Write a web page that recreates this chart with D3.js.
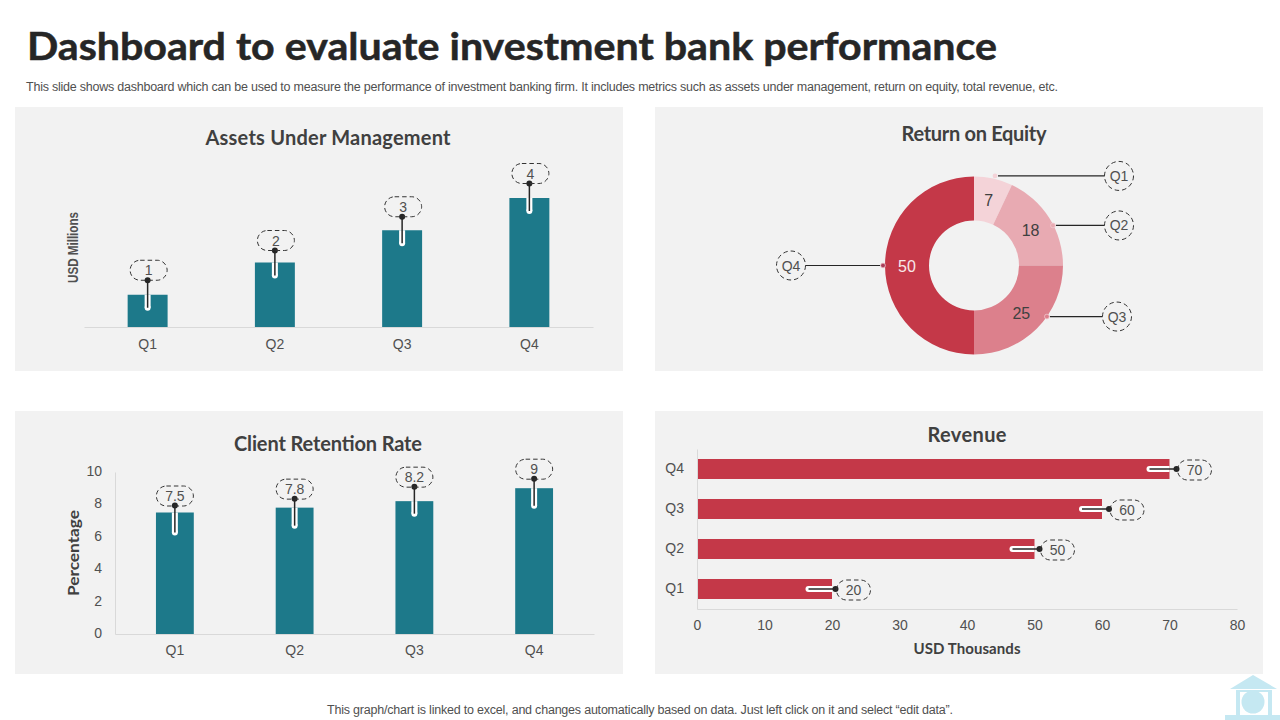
<!DOCTYPE html>
<html>
<head>
<meta charset="utf-8">
<script src="https://cdn.jsdelivr.net/npm/d3@7"></script>
<style>
  html, body { margin: 0; padding: 0; background: #fff; }
  svg { display: block; }
  text { font-family: "Liberation Sans", Arial, sans-serif; fill: #505050; }
  .head { font-family: Lato, "Open Sans", sans-serif; font-weight: 700; fill: #404040; }
  .axis .domain { stroke: #d9d9d9; stroke-width: 1; }
  .axis text { font-family: "Liberation Sans", Arial, sans-serif; font-size: 14px; fill: #505050; }
</style>
</head>
<body>
<svg id="chart" width="1280" height="720"></svg>
<script>
// chart values
const quarters = ['Q1', 'Q2', 'Q3', 'Q4'];
const aumValues = [1, 2, 3, 4];
const roeValues = [7, 18, 25, 50];
const retentionValues = [7.5, 7.8, 8.2, 9];
const revenueValues = [20, 50, 60, 70];
const retentionTicks = [0, 2, 4, 6, 8, 10];
const revenueTicks = [0, 10, 20, 30, 40, 50, 60, 70, 80];

const TEAL = '#1d798a';
const RED = '#c43848';
const ROE_COLORS = ['#f4d3d8', '#e8aab2', '#dc808c', '#c43848'];
const PANEL = '#f2f2f2';
const INK = '#262626';

const svg = d3.select('#chart');

// fixed-width text, so the substitute fonts still span what the original spans
function label(str, x, y, size, width, opts = {}) {
    const t = svg.append('text')
        .attr('x', x).attr('y', y)
        .attr('font-size', size)
        .attr('text-anchor', opts.anchor || 'middle')
        .text(str);
    if (width) t.attr('textLength', width).attr('lengthAdjust', opts.adjust || 'spacing');
    if (opts.head) t.attr('class', 'head');
    if (opts.bold) t.attr('font-weight', 700);
    if (opts.fill) t.style('fill', opts.fill);
    if (opts.rotate) t.attr('transform', `rotate(-90 ${x} ${y})`);
    return t;
}

function panel(x, y, w, h) {
    svg.append('rect').attr('x', x).attr('y', y).attr('width', w).attr('height', h).attr('fill', PANEL);
}

function dashedTag(cx, cy, w, h, rx, text) {
    svg.append('rect')
        .attr('x', cx - w / 2).attr('y', cy - h / 2)
        .attr('width', w).attr('height', h).attr('rx', rx)
        .attr('fill', 'none').attr('stroke', '#333').attr('stroke-width', 1)
        .attr('stroke-dasharray', '4.5 3');
    label(text, cx, cy + 5, 14, null);
}

// white slot cut in the bar from (sx,sy) to its round end (ex,ey), then stem and dot
function callout(sx, sy, ex, ey, dotX, dotY) {
    svg.append('line').attr('x1', sx).attr('y1', sy).attr('x2', ex).attr('y2', ey)
        .attr('stroke', '#fff').attr('stroke-width', 6);
    svg.append('circle').attr('cx', ex).attr('cy', ey).attr('r', 3).attr('fill', '#fff');
    svg.append('line').attr('x1', ex).attr('y1', ey).attr('x2', dotX).attr('y2', dotY)
        .attr('stroke', INK).attr('stroke-width', 1.5);
    svg.append('circle').attr('cx', dotX).attr('cy', dotY).attr('r', 3).attr('fill', INK);
}

// page heading
label('Dashboard to evaluate investment bank performance', 27, 60, 38, 970, { anchor: 'start', head: true, fill: INK, adjust: 'spacingAndGlyphs' })
    .attr('stroke', INK).attr('stroke-width', 0.5);
label('This slide shows dashboard which can be used to measure the performance of investment banking firm. It includes metrics such as assets under management, return on equity, total revenue, etc.',
    26, 91, 12.5, 1032, { anchor: 'start' });
label('This graph/chart is linked to excel,  and changes automatically based on data. Just left click on it and select \u201Cedit data\u201D.',
    640, 714, 12.5, 626);

panel(15, 107, 608, 264);
panel(655, 107, 608, 264);
panel(15, 411, 608, 263);
panel(655, 411, 608, 263);

// Assets Under Management
label('Assets Under Management', 328, 145, 20, 245, { head: true });
label('USD Millions', 78, 283, 14, 71, { bold: true, rotate: true, adjust: 'spacingAndGlyphs' }).attr('text-anchor', 'start');

const aumX = d3.scaleBand().domain(quarters).range([84, 593]).paddingInner(0.686).paddingOuter(0.343);
const aumY = d3.scaleLinear().domain([0, 4]).range([327, 198]);

svg.append('g').selectAll('rect').data(aumValues).join('rect')
    .attr('x', (d, i) => aumX(quarters[i]))
    .attr('y', d => aumY(d))
    .attr('width', aumX.bandwidth())
    .attr('height', d => aumY(0) - aumY(d))
    .attr('fill', TEAL);

svg.append('g').attr('class', 'axis').attr('transform', 'translate(0,327)')
    .call(d3.axisBottom(aumX).tickSize(0).tickPadding(12));

const aumDotGap = [14.5, 12, 13.5, 14.5];
aumValues.forEach((d, i) => {
    const cx = aumX(quarters[i]) + aumX.bandwidth() / 2;
    const top = aumY(d);
    callout(cx, top, cx, top + 13, cx, top - aumDotGap[i]);
    dashedTag(cx + 1, top - aumDotGap[i] - 10, 37, 20, 10, d);
});

// Return on Equity
label('Return on Equity', 974, 141, 20, 145, { head: true });

const pieCx = 974, pieCy = 265.5;
const pieOuter = 89, pieInner = 45;
const pie = d3.pie().sort(null)(roeValues);
const arc = d3.arc().innerRadius(pieInner).outerRadius(pieOuter);

svg.append('g').attr('transform', `translate(${pieCx},${pieCy})`)
    .selectAll('path').data(pie).join('path')
    .attr('d', arc)
    .attr('fill', (d, i) => ROE_COLORS[i]);

pie.forEach((d, i) => {
    const [lx, ly] = arc.centroid(d);
    label(d.data, pieCx + lx, pieCy + ly + 6, 16, null, { fill: i === 3 ? '#f8e8ea' : '#404040' });
});

// leader dots sit on the rim, pushed a bit off the slice middle
const roeNudge = [0.6, 5.5, -10, 0];
const roeDotR = [92, 88.5, 89, 91];
const roeTagDx = [145, 145, 143, -183];
pie.forEach((d, i) => {
    const a = (d.startAngle + d.endAngle) / 2 + roeNudge[i] * Math.PI / 180;
    const dotX = pieCx + Math.sin(a) * roeDotR[i];
    const dotY = pieCy - Math.cos(a) * roeDotR[i];
    const tagX = pieCx + roeTagDx[i];
    const side = roeTagDx[i] > 0 ? 1 : -1;
    svg.append('line')
        .attr('x1', dotX + side * 3).attr('y1', dotY)
        .attr('x2', tagX - side * 14.5).attr('y2', dotY)
        .attr('stroke', INK).attr('stroke-width', 1.2);
    svg.append('circle').attr('cx', dotX).attr('cy', dotY).attr('r', 2.4)
        .attr('fill', i === 3 ? '#a8405a' : ROE_COLORS[i])
        .attr('stroke', i === 0 ? 'none' : '#f0c8ce').attr('stroke-width', 0.8);
    svg.append('circle').attr('cx', tagX).attr('cy', dotY).attr('r', 14.5)
        .attr('fill', 'none').attr('stroke', '#333').attr('stroke-dasharray', '4.5 3');
    label(quarters[i], tagX, dotY + 5, 14, null);
});

// Client Retention Rate
label('Client Retention Rate', 328, 451, 20, 188, { head: true });
label('Percentage', 79, 596, 15, 86, { head: true, rotate: true, adjust: 'spacingAndGlyphs' }).attr('text-anchor', 'start');

const retX = d3.scaleBand().domain(quarters).range([115, 594]).paddingInner(0.684).paddingOuter(0.342);
const retY = d3.scaleLinear().domain([0, 10]).range([634, 472]);

svg.append('g').selectAll('rect').data(retentionValues).join('rect')
    .attr('x', (d, i) => retX(quarters[i]))
    .attr('y', d => retY(d))
    .attr('width', retX.bandwidth())
    .attr('height', d => retY(0) - retY(d))
    .attr('fill', TEAL);

svg.append('g').attr('class', 'axis').attr('transform', 'translate(0,634)')
    .call(d3.axisBottom(retX).tickSize(0).tickPadding(11));
svg.append('g').attr('class', 'axis').attr('transform', 'translate(115,0)')
    .call(d3.axisLeft(retY).tickValues(retentionTicks).tickSize(0).tickPadding(13))
    .selectAll('text').attr('y', -1);

const retDotGap = [7, 9, 14.5, 9.5];
retentionValues.forEach((d, i) => {
    const cx = retX(quarters[i]) + retX.bandwidth() / 2;
    const top = retY(d);
    const dotY = top - retDotGap[i];
    callout(cx, top, cx, dotY + 27, cx, dotY);
    dashedTag(cx, dotY - 9.5, 37, 20, 10, d);
});

// Revenue
label('Revenue', 967, 442, 20, 79, { head: true });
label('USD Thousands', 967, 654, 15, 107, { head: true });

const revX = d3.scaleLinear().domain([0, 80]).range([697, 1237]);
const revY = d3.scaleBand().domain(quarters.slice().reverse()).range([449, 609]).paddingInner(0.5).paddingOuter(0.25);

svg.append('g').selectAll('rect').data(revenueValues).join('rect')
    .attr('x', revX(0))
    .attr('y', (d, i) => revY(quarters[i]))
    .attr('width', d => revX(d) - revX(0))
    .attr('height', revY.bandwidth())
    .attr('fill', RED);

svg.append('g').attr('class', 'axis').attr('transform', 'translate(0,609)')
    .call(d3.axisBottom(revX).tickValues(revenueTicks).tickSize(0).tickPadding(11));
svg.append('g').attr('class', 'axis').attr('transform', 'translate(697,0)')
    .call(d3.axisLeft(revY).tickSize(0).tickPadding(13));

const revDotGap = [3.5, 5, 7, 7];
revenueValues.forEach((d, i) => {
    const cy = revY(quarters[i]) + revY.bandwidth() / 2;
    const dotX = revX(d) + revDotGap[i];
    callout(revX(d), cy, dotX - 27, cy, dotX, cy);
    dashedTag(dotX + 18, cy + 1, 34, 20, 10, d);
});

// logo in the corner
const logo = svg.append('g').attr('fill', '#c5e8f2');
logo.append('path').attr('d', 'M1253 675 L1277 689 L1230 689 Z');
logo.append('path').attr('fill-rule', 'evenodd')
    .attr('d', 'M1236 690 H1272 V715 H1236 Z M1240 692 V715 H1268 V692 Z');
logo.append('circle').attr('cx', 1253).attr('cy', 702).attr('r', 11.5);
logo.append('rect').attr('x', 1225).attr('y', 715).attr('width', 55).attr('height', 5);
</script>
</body>
</html>
